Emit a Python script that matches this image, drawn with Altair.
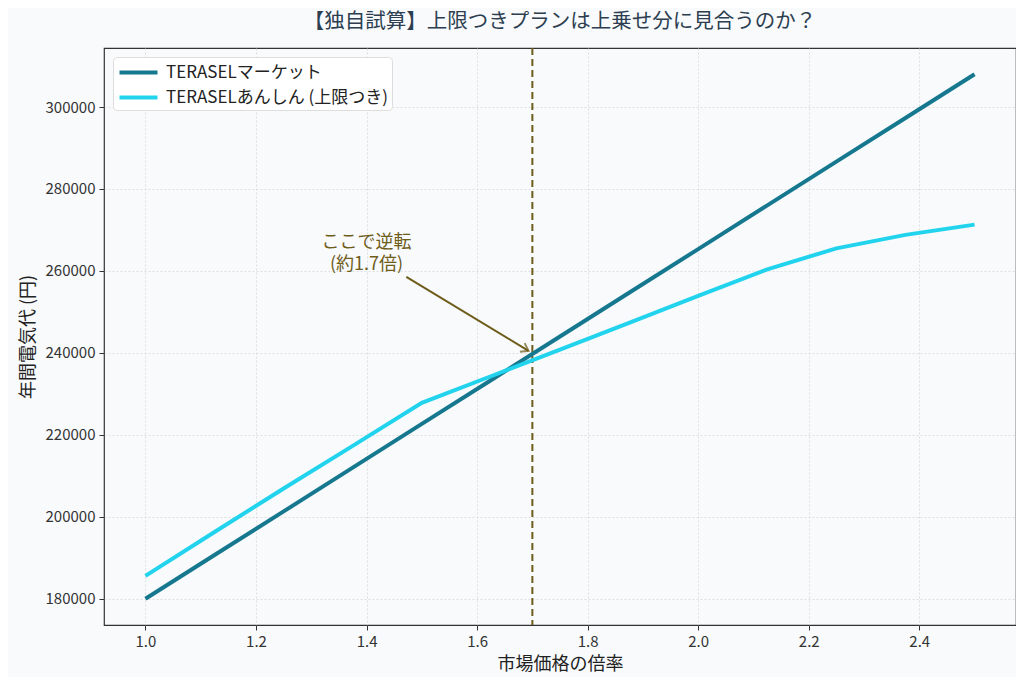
import altair as alt
import pandas as pd

multiplier = [1.0, 1.125, 1.25, 1.375, 1.5, 1.625, 1.75, 1.875, 2.0, 2.125, 2.25, 2.375, 2.5]
market = [180000, 190670, 201330, 212000, 222670, 233330, 244000, 254670, 265330, 276000, 286670, 297330, 308000]
anshin = [185600, 196300, 206900, 217300, 227800, 234300, 240800, 247300, 253900, 260400, 265500, 268800, 271300]
series_names = ["TERASELマーケット", "TERASELあんしん (上限つき)"]
series_colors = ["#15788f", "#22d3ee"]

crossover_x = 1.7
annot_lines = ["ここで逆転", "(約1.7倍)"]
annot_x = [1.40, 1.40]
annot_y = [266800, 261400]
arrow_from = (1.472, 258570)
arrow_to = (1.693, 240510)

title = "【独自試算】上限つきプランは上乗せ分に見合うのか？"
x_title = "市場価格の倍率"
y_title = "年間電気代 (円)"

FONT = "Noto Sans CJK JP"
OLIVE = "#6e5c1a"

rows = []
for m, a, b in zip(multiplier, market, anshin):
    rows.append({"x": m, "y": a, "plan": series_names[0]})
    rows.append({"x": m, "y": b, "plan": series_names[1]})
df = pd.DataFrame(rows)

xscale = alt.Scale(domain=[0.925, 2.575], nice=False, zero=False)
yscale = alt.Scale(domain=[173600, 314400], nice=False, zero=False)

lines = alt.Chart(df).mark_line(strokeWidth=4, clip=True).encode(
    x=alt.X("x:Q", scale=xscale, title=x_title,
            axis=alt.Axis(values=[1.0, 1.2, 1.4, 1.6, 1.8, 2.0, 2.2, 2.4], format=".1f")),
    y=alt.Y("y:Q", scale=yscale, title=y_title,
            axis=alt.Axis(values=[180000, 200000, 220000, 240000, 260000, 280000, 300000], format="d")),
    color=alt.Color("plan:N", sort=series_names,
                    scale=alt.Scale(domain=series_names, range=series_colors),
                    legend=alt.Legend(title=None, orient="top-left", offset=9,
                                      symbolType="M -2 0 L 2 0", symbolSize=361, symbolStrokeWidth=4,
                                      symbolOffset=10,
                                      labelFont=FONT, labelFontSize=17, labelColor="#222",
                                      labelLimit=0,
                                      fillColor="white", strokeColor="#dddddd", cornerRadius=4,
                                      padding=4, rowPadding=5, labelOffset=16)),
    detail="plan:N",
)

vline = alt.Chart(pd.DataFrame({"x": [crossover_x]})).mark_rule(
    color=OLIVE, strokeWidth=2, strokeDash=[7, 4]
).encode(x=alt.X("x:Q", scale=xscale))

annot = alt.Chart(pd.DataFrame({"x": annot_x, "y": annot_y, "t": annot_lines})).mark_text(
    font=FONT, fontSize=18, color=OLIVE, baseline="middle", align="center"
).encode(x=alt.X("x:Q", scale=xscale), y=alt.Y("y:Q", scale=yscale), text="t:N")

arrow_df = pd.DataFrame({"x": [arrow_from[0]], "y": [arrow_from[1]],
                         "x2": [arrow_to[0]], "y2": [arrow_to[1]]})
arrow_line = alt.Chart(arrow_df).mark_rule(color=OLIVE, strokeWidth=2).encode(
    x=alt.X("x:Q", scale=xscale), y=alt.Y("y:Q", scale=yscale), x2="x2:Q", y2="y2:Q")

arrow_head = alt.Chart(pd.DataFrame({"x": [arrow_to[0]], "y": [arrow_to[1]]})).mark_point(
    shape="M -1 -0.7 L 0 0 L -1 0.7", filled=False, stroke=OLIVE, strokeWidth=2, size=200, angle=28.6
).encode(x=alt.X("x:Q", scale=xscale), y=alt.Y("y:Q", scale=yscale))

chart = alt.layer(vline, lines, arrow_line, arrow_head, annot).properties(
    width=912, height=577,
    title=alt.Title(title, font=FONT, fontSize=20.5, fontWeight="normal", color="#2c3e50",
                    anchor="middle", offset=15),
    background="#f8fafc",
    padding={"left": 96, "top": 40, "right": 0, "bottom": 52},
    autosize=alt.AutoSizeParams(type="none"),
).configure_view(
    fill="#f8fafc", stroke="#333333", strokeWidth=1.2
).configure_axis(
    labelFont=FONT, labelFontSize=15, labelColor="#333333",
    titleFont=FONT, titleFontSize=18, titleFontWeight="normal", titleColor="#222222",
    domain=False, tickColor="#333333", tickSize=5, labelPadding=4,
    grid=True, gridColor="#d8d8d8", gridDash=[2, 2], gridWidth=0.8,
).configure_axisY(titlePadding=8).configure_axisX(titlePadding=6)

chart.save("out.html", embed_options={"renderer": "svg", "actions": False})
